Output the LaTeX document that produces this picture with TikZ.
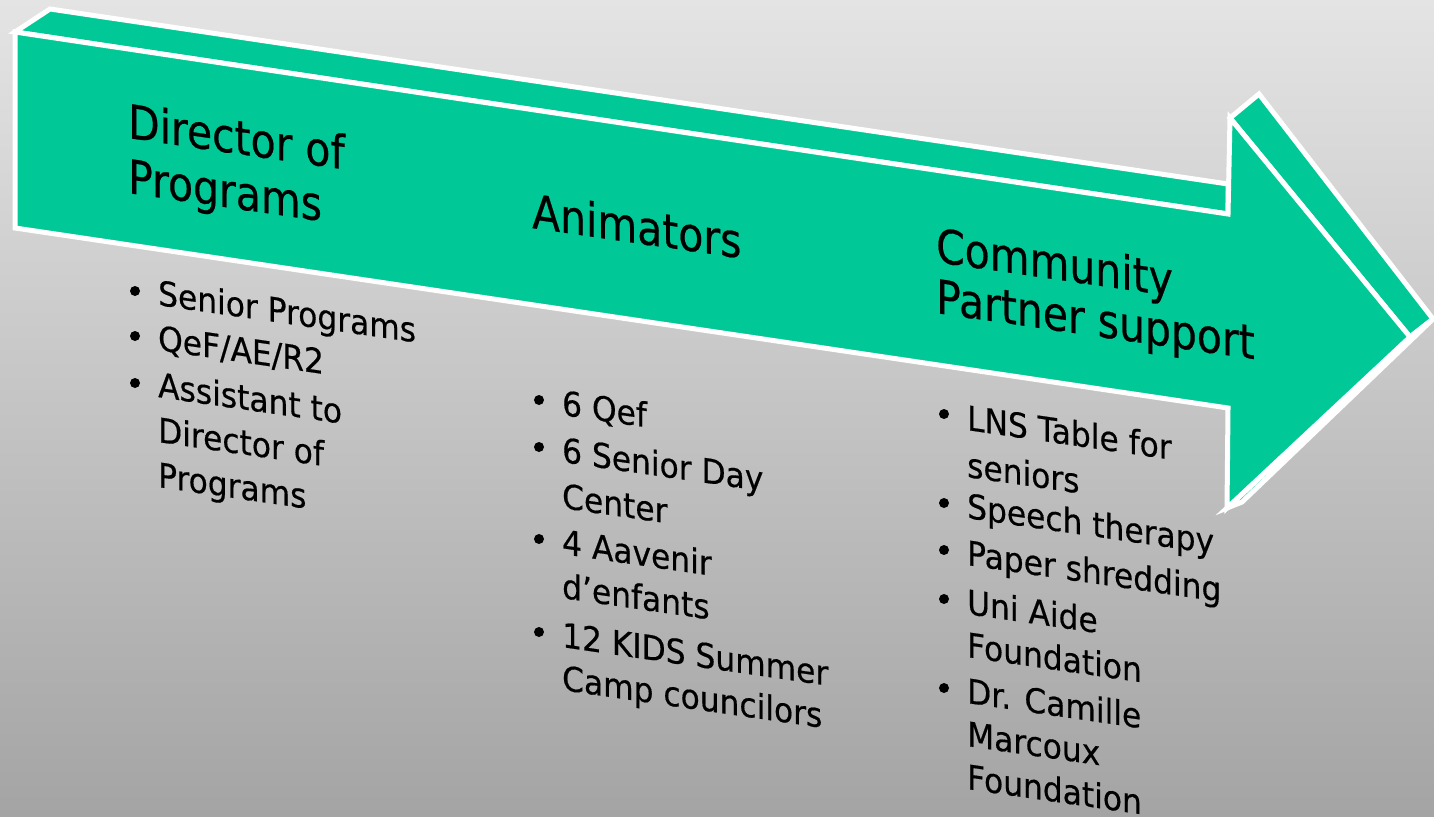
\documentclass[tikz,border=0pt]{standalone}
\usepackage{fontspec}
\setmainfont{DejaVu Sans}
\newfontfamily\labfont{DejaVu Sans}[FakeBold=0.5]
\definecolor{agreen}{RGB}{0,201,151}
\definecolor{bgtop}{RGB}{228,228,228}
\definecolor{bgbot}{RGB}{164,164,164}
\tikzset{
  face/.style={fill=agreen, draw=white, line width=5pt, line join=miter},
  head/.style={anchor=base west, inner sep=0pt, yslant=-0.145, xscale=0.87, font=\labfont\fontsize{47}{47}\selectfont},
  item/.style={anchor=base west, inner sep=0pt, yslant=-0.145, xscale=0.92, font=\labfont\fontsize{34}{34}\selectfont},
  dot/.style={fill=black}
}
\begin{document}
\begin{tikzpicture}[x=1pt,y=-1pt]
\useasboundingbox (0,0) rectangle (1434,816);
\shade[top color=bgtop, bottom color=bgbot] (0,0) rectangle (1434,816);
% arrow corner points
\coordinate (F1) at (15,32);
\coordinate (B1) at (50,9);
\coordinate (B2) at (1228,184);
\coordinate (F2) at (1228,214);
\coordinate (F3) at (1230,118);
\coordinate (B3) at (1259,94);
\coordinate (B4) at (1433,319);
\coordinate (F4) at (1410,337);
\coordinate (Q5) at (1242,502);
\coordinate (F5) at (1227,508);
\coordinate (F6) at (1228,408);
\coordinate (F7) at (15,228);
% 3D faces
\draw[face] (F1) -- (B1) -- (B2) -- (F2) -- cycle;
\draw[face] (F3) -- (B3) -- (B4) -- (F4) -- cycle;
\draw[face] (F4) -- (B4) -- (Q5) -- (F5) -- cycle;
% front face
\draw[face] (F1) -- (F2) -- (F3) -- (F4) -- (F5) -- (F6) -- (F7) -- cycle;
% headings
\node[head] (h1a) at (128,138) {Director of};
\node[head] (h1b) at (128,193) {Programs};
\node[head] (h2a) at (532,228) {Animators};
\node[head] (h3a) at (936,262) {Community};
\node[head] (h3b) at (936,313) {Partner support};
% column 1
\node[item] (c1a) at (158,305) {Senior Programs};
\node[item] (c1b) at (158,350) {QeF/AE/R2};
\node[item] (c1c) at (158,397) {Assistant to};
\node[item] (c1d) at (158,442) {Director of};
\node[item] (c1e) at (158,487) {Programs};
\fill[dot] (135,291) circle (5);
\fill[dot] (135,336) circle (5);
\fill[dot] (135,383) circle (5);
% column 2
\node[item] (c2a) at (562,415) {6 Qef};
\node[item] (c2b) at (562,462) {6 Senior Day};
\node[item] (c2c) at (562,508) {Center};
\node[item] (c2d) at (562,554) {4 Aavenir};
\node[item] (c2e) at (562,598) {d’enfants};
\node[item] (c2f) at (562,647) {12 KIDS Summer};
\node[item] (c2g) at (562,690) {Camp councilors};
\fill[dot] (539,400) circle (5);
\fill[dot] (539,447) circle (5);
\fill[dot] (539,539) circle (5);
\fill[dot] (539,632) circle (5);
% column 3
\node[item] (c3a) at (967,430) {LNS Table for};
\node[item] (c3b) at (967,477) {seniors};
\node[item] (c3c) at (967,518) {Speech therapy};
\node[item] (c3d) at (967,565) {Paper shredding};
\node[item] (c3e) at (967,614) {Uni Aide};
\node[item] (c3f) at (967,657) {Foundation};
\node[item] (c3g) at (967,703) {Dr. Camille};
\node[item] (c3h) at (967,746) {Marcoux};
\node[item] (c3i) at (967,789) {Foundation};
\fill[dot] (944,414) circle (5);
\fill[dot] (944,503) circle (5);
\fill[dot] (944,550) circle (5);
\fill[dot] (944,599) circle (5);
\fill[dot] (944,688) circle (5);
\end{tikzpicture}
\end{document}
